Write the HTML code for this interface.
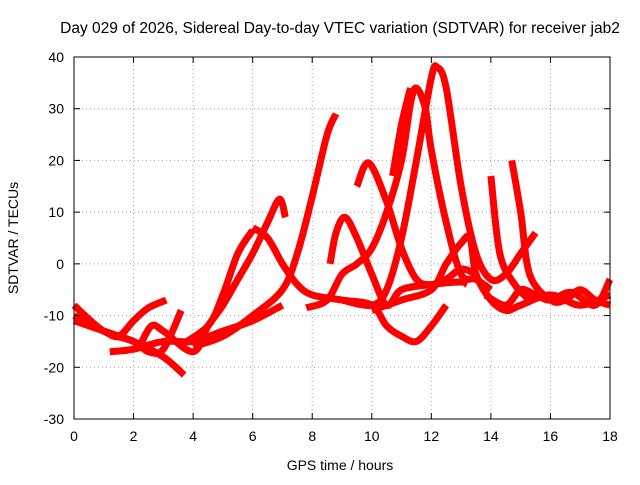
<!DOCTYPE html>
<html><head><meta charset="utf-8"><style>
body{margin:0;background:#fff}
svg text{font-family:"Liberation Sans",sans-serif;fill:#000}
</style></head><body>
<svg id="chart" width="640" height="480" xmlns="http://www.w3.org/2000/svg">
<rect width="640" height="480" fill="#fff"/>
<text x="340" y="33" font-size="15.5" text-anchor="middle">Day 029 of 2026, Sidereal Day-to-day VTEC variation (SDTVAR) for receiver jab2</text>
<g id="grid"></g><g id="series"></g><g id="axes"></g>
<text x="340" y="470" font-size="14" text-anchor="middle">GPS time / hours</text>
<text transform="translate(18,238) rotate(-90)" font-size="14" text-anchor="middle">SDTVAR / TECUs</text>
</svg>
<script>
const xTicks=[0,2,4,6,8,10,12,14,16,18];
const yTicks=[-30,-20,-10,0,10,20,30,40];
const t1=[[0,-8],[1,-13],[2,-15],[3,-18],[3.7,-21.5]];
const t2=[[0,-10],[1,-13],[1.5,-14],[2,-11],[2.5,-8.5],[3.1,-7]];
const t3=[[0,-11],[1,-13],[2,-15],[2.5,-17],[3,-16.5],[3.6,-9]];
const t4=[[1.2,-17],[2,-16.5],[3,-15],[4,-15],[5,-13],[6,-11],[7,-8]];
const t5=[[2.2,-16],[2.6,-12],[3,-13],[4,-17],[4.5,-12],[5,-8],[5.5,-3],[6,2],[6.5,8],[6.9,12.5],[7.1,9]];
const t6=[[3.5,-16],[4.5,-12],[5,-6],[5.5,2],[6,6.5]];
const t7=[[4,-16],[5,-14],[6,-10],[7,-5],[7.5,2],[8,13],[8.5,25],[8.8,29]];
const t8=[[6,7],[6.5,5],[7,0],[7.5,-4],[8,-6],[9,-7],[10,-8],[10.5,-12],[11,-14],[11.5,-15],[12,-12],[12.5,-8]];
const t9=[[7.8,-8.5],[8.5,-7],[9,-2],[9.5,0],[10,3],[10.5,10],[11,20],[11.3,31],[11.5,34],[11.8,30],[12,22],[12.5,8],[13,-2],[13.5,-3],[14,-5]];
const t10=[[8.6,0],[8.8,6],[9.1,9],[9.5,5],[10,-2],[10.5,-8],[11,-5],[12,-4],[13,-3.5],[13.2,-4]];
const t11=[[9.5,15],[9.9,19.5],[10.5,12],[11,3],[11.5,-3],[12,-4],[12.5,-3],[13,-1],[13.5,-2]];
const t12=[[9,-7],[10,-8],[10.5,-5],[11,5],[11.5,20],[12,36],[12.2,38],[12.5,34],[13,15],[13.5,2],[14,-3],[14.5,-2],[15,2],[15.5,6]];
const t13=[[10.7,17],[11,27],[11.3,34]];
const t14=[[10,-9],[11,-7],[12,-5],[12.5,0],[13,4],[13.3,5],[13.5,-2],[14,-7],[14.5,-9],[15,-8],[16,-6],[17,-8],[18,-6]];
const t15=[[14,17],[14.3,2],[14.8,-4],[15.3,-7]];
const t16=[[14.7,20],[15,10],[15.3,-2],[16,-7],[16.5,-7],[17,-5],[17.5,-7],[18,-8]];
const t17=[[13.8,-6],[14.5,-8],[15,-5],[15.5,-6],[16,-7],[16.7,-5.5],[17.5,-8],[18,-3]];
const traces=[t1,t2,t3,t4,t5,t6,t7,t8,t9,t10,t11,t12,t13,t14,t15,t16,t17];
const X0=74,X1=610,Y0=419,Y1=57;
const sx=v=>X0+(v-0)/18*(X1-X0);
const sy=v=>Y0-(v+30)/70*(Y0-Y1);
const NS="http://www.w3.org/2000/svg";
function mk(tag,parent,attrs){const e=document.createElementNS(NS,tag);for(const k in attrs)e.setAttribute(k,attrs[k]);parent.appendChild(e);return e;}
const grid=document.getElementById('grid'),axes=document.getElementById('axes'),ser=document.getElementById('series');
xTicks.forEach(v=>{
  const x=sx(v);
  const g=mk('line',grid,{x1:x,x2:x,y1:Y1,y2:Y0,stroke:'#a0a0a0','stroke-dasharray':'1,3'});
  
  
  mk('line',axes,{x1:x,x2:x,y1:Y0,y2:Y0-6,stroke:'#000'});
  mk('line',axes,{x1:x,x2:x,y1:Y1,y2:Y1+6,stroke:'#000'});
  const t=mk('text',axes,{x:x,y:Y0+22,'font-size':14,'text-anchor':'middle'});
  t.textContent=v;
  
  
});
yTicks.forEach(v=>{
  const y=sy(v);
  const g=mk('line',grid,{x1:X0,x2:X1,y1:y,y2:y,stroke:'#a0a0a0','stroke-dasharray':'1,3'});
  
  
  mk('line',axes,{x1:X0,x2:X0+6,y1:y,y2:y,stroke:'#000'});
  mk('line',axes,{x1:X1,x2:X1-6,y1:y,y2:y,stroke:'#000'});
  const t=mk('text',axes,{x:X0-10,y:y+5,'font-size':14,'text-anchor':'end'});
  t.textContent=v;
  
  
});
const frame=mk('rect',axes,{x:X0,y:Y1,width:X1-X0,height:Y0-Y1,fill:'none',stroke:'#000'});


function smoothPath(pts){
  let d='M'+pts[0][0]+','+pts[0][1];
  for(let i=0;i<pts.length-1;i++){
    const p0=pts[Math.max(0,i-1)],p1=pts[i],p2=pts[i+1],p3=pts[Math.min(pts.length-1,i+2)];
    const c1=[p1[0]+(p2[0]-p0[0])/6,p1[1]+(p2[1]-p0[1])/6];
    const c2=[p2[0]-(p3[0]-p1[0])/6,p2[1]-(p3[1]-p1[1])/6];
    d+=' C'+c1[0]+','+c1[1]+' '+c2[0]+','+c2[1]+' '+p2[0]+','+p2[1];
  }
  return d;
}
traces.forEach(tr=>{
  const pts=tr.map(d=>[sx(d[0]),sy(d[1])]);
  const p=mk('path',ser,{d:smoothPath(pts),fill:'none',stroke:'#f00','stroke-width':7,'stroke-linejoin':'round','stroke-linecap':'butt'});
  
  
});
</script>
</body></html>
